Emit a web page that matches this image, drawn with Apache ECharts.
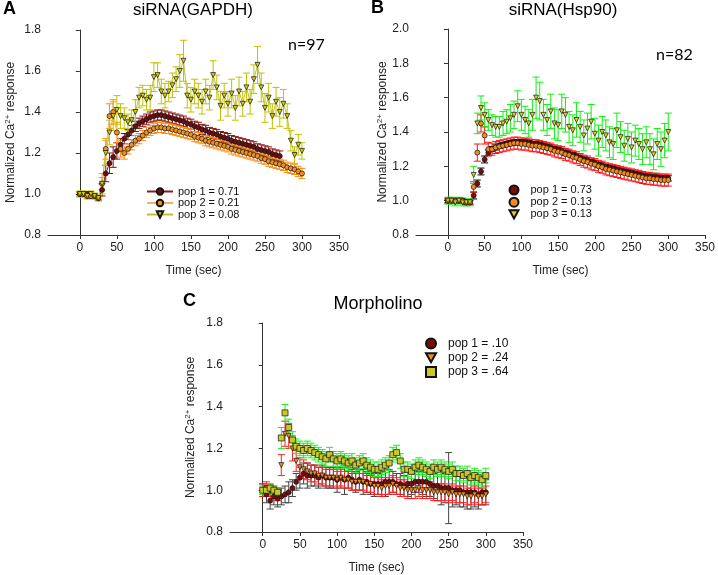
<!DOCTYPE html>
<html>
<head>
<meta charset="utf-8">
<script src="https://cdn.jsdelivr.net/npm/echarts@6/dist/echarts.min.js"></script>
<style>html,body{margin:0;background:#fff}#fig{width:718px;height:575px}</style>
</head>
<body>
<div id="fig"></div>
<script>
// sample times (sec)
const times = [
  0, 5, 10, 15, 20, 25, 30, 35, 40, 45,
  50, 55, 60, 65, 70, 75, 80, 85, 90, 95,
  100, 105, 110, 115, 120, 125, 130, 135, 140, 145,
  150, 155, 160, 165, 170, 175, 180, 185, 190, 195,
  200, 205, 210, 215, 220, 225, 230, 235, 240, 245,
  250, 255, 260, 265, 270, 275, 280, 285, 290, 295,
  300
];
const xTicks = [0, 50, 100, 150, 200, 250, 300, 350];

// A: siRNA(GAPDH)
const gapdhNames = ['pop 1 = 0.71', 'pop 2 = 0.21', 'pop 3 = 0.08'];
const gapdhPop1 = [
  1.00, 1.00, 1.00, 0.99, 0.99, 0.98, 1.02, 1.10, 1.15, 1.18,
  1.21, 1.24, 1.27, 1.29, 1.31, 1.33, 1.345, 1.355, 1.365, 1.375,
  1.38, 1.385, 1.385, 1.38, 1.375, 1.37, 1.365, 1.36, 1.355, 1.345,
  1.34, 1.33, 1.325, 1.315, 1.31, 1.30, 1.295, 1.29, 1.28, 1.275,
  1.27, 1.26, 1.255, 1.25, 1.245, 1.24, 1.235, 1.23, 1.22, 1.215,
  1.21, 1.205, 1.195, 1.19, 1.185
];
const gapdhErr1 = [
  0.01, 0.01, 0.01, 0.01, 0.01, 0.01, 0.03, 0.04, 0.05, 0.05,
  0.04, 0.03, 0.025, 0.025, 0.025, 0.025, 0.025, 0.025, 0.025, 0.025,
  0.025, 0.025, 0.025, 0.025, 0.025, 0.025, 0.025, 0.025, 0.025, 0.025,
  0.025, 0.025, 0.025, 0.025, 0.025, 0.025, 0.025, 0.025, 0.025, 0.025,
  0.025, 0.025, 0.025, 0.025, 0.025, 0.025, 0.025, 0.025, 0.025, 0.025,
  0.025, 0.025, 0.025, 0.025, 0.025
];
const gapdhPop2 = [
  1.00, 1.00, 0.99, 0.99, 0.99, 0.98, 1.05, 1.22, 1.38, 1.40,
  1.30, 1.22, 1.20, 1.22, 1.24, 1.26, 1.27, 1.285, 1.30, 1.31,
  1.32, 1.325, 1.325, 1.32, 1.32, 1.315, 1.31, 1.305, 1.30, 1.295,
  1.29, 1.28, 1.275, 1.27, 1.26, 1.255, 1.25, 1.245, 1.24, 1.235,
  1.23, 1.22, 1.215, 1.21, 1.205, 1.20, 1.195, 1.19, 1.185, 1.175,
  1.17, 1.16, 1.155, 1.15, 1.145, 1.14, 1.13, 1.125, 1.12, 1.11,
  1.10
];
const gapdhErr2 = [
  0.01, 0.01, 0.01, 0.01, 0.01, 0.01, 0.03, 0.05, 0.06, 0.06,
  0.05, 0.04, 0.03, 0.025, 0.025, 0.025, 0.025, 0.025, 0.025, 0.025,
  0.025, 0.025, 0.025, 0.025, 0.025, 0.025, 0.025, 0.025, 0.025, 0.025,
  0.025, 0.025, 0.025, 0.025, 0.025, 0.025, 0.025, 0.025, 0.025, 0.025,
  0.025, 0.025, 0.025, 0.025, 0.025, 0.025, 0.025, 0.025, 0.025, 0.025,
  0.025, 0.025, 0.025, 0.025, 0.025, 0.025, 0.025, 0.025, 0.025, 0.025,
  0.025
];
const gapdhPop3 = [
  1.00, 1.00, 0.99, 1.00, 0.99, 0.98, 1.05, 1.20, 1.30, 1.38,
  1.41, 1.38, 1.37, 1.35, 1.36, 1.40, 1.47, 1.48, 1.46, 1.47,
  1.57, 1.58, 1.50, 1.48, 1.50, 1.53, 1.56, 1.60, 1.65, 1.48,
  1.46, 1.50, 1.48, 1.45, 1.50, 1.47, 1.58, 1.52, 1.43, 1.48,
  1.44, 1.49, 1.42, 1.50, 1.44, 1.52, 1.45, 1.56, 1.63, 1.52,
  1.42, 1.47, 1.38, 1.45, 1.40, 1.44, 1.38, 1.26, 1.19, 1.24,
  1.21
];
const gapdhErr3 = [
  0.015, 0.015, 0.015, 0.015, 0.015, 0.015, 0.05, 0.06, 0.06, 0.07,
  0.07, 0.06, 0.05, 0.04, 0.05, 0.06, 0.05, 0.05, 0.05, 0.06,
  0.07, 0.06, 0.06, 0.06, 0.05, 0.06, 0.06, 0.08, 0.10, 0.06,
  0.06, 0.06, 0.06, 0.06, 0.06, 0.06, 0.07, 0.06, 0.07, 0.06,
  0.06, 0.07, 0.06, 0.07, 0.06, 0.07, 0.06, 0.07, 0.09, 0.07,
  0.07, 0.07, 0.06, 0.07, 0.07, 0.07, 0.06, 0.05, 0.04, 0.05,
  0.04
];

// B: siRNA(Hsp90)
const hspNames = ['pop 1 = 0.73', 'pop 2 = 0.13', 'pop 3 = 0.13'];
const hspPop1 = [
  1.00, 1.00, 1.00, 1.00, 1.00, 0.99, 0.99, 1.03, 1.10, 1.17,
  1.24, 1.28, 1.30, 1.31, 1.32, 1.325, 1.33, 1.335, 1.34, 1.34,
  1.34, 1.34, 1.335, 1.33, 1.33, 1.325, 1.32, 1.315, 1.31, 1.30,
  1.295, 1.29, 1.28, 1.275, 1.265, 1.26, 1.25, 1.24, 1.235, 1.225,
  1.22, 1.21, 1.205, 1.195, 1.19, 1.185, 1.18, 1.175, 1.17, 1.165,
  1.16, 1.155, 1.15, 1.145, 1.14, 1.14, 1.135, 1.135, 1.13, 1.13,
  1.13
];
const hspErr1 = [
  0.01, 0.01, 0.01, 0.01, 0.01, 0.01, 0.01, 0.02, 0.02, 0.02,
  0.02, 0.015, 0.015, 0.015, 0.015, 0.015, 0.015, 0.015, 0.015, 0.015,
  0.015, 0.015, 0.015, 0.015, 0.015, 0.015, 0.015, 0.015, 0.015, 0.015,
  0.015, 0.015, 0.015, 0.015, 0.015, 0.015, 0.015, 0.015, 0.015, 0.015,
  0.015, 0.015, 0.015, 0.015, 0.015, 0.015, 0.015, 0.015, 0.015, 0.015,
  0.015, 0.015, 0.015, 0.015, 0.015, 0.015, 0.015, 0.015, 0.015, 0.015,
  0.015
];
const hspPop2 = [
  1.00, 1.00, 1.00, 1.00, 1.00, 0.99, 0.99, 1.08, 1.28, 1.45,
  1.38, 1.30, 1.30, 1.31, 1.315, 1.32, 1.325, 1.33, 1.335, 1.335,
  1.33, 1.33, 1.325, 1.32, 1.32, 1.315, 1.31, 1.305, 1.30, 1.29,
  1.285, 1.28, 1.27, 1.265, 1.255, 1.25, 1.24, 1.23, 1.225, 1.215,
  1.21, 1.20, 1.195, 1.185, 1.18, 1.175, 1.17, 1.165, 1.16, 1.155,
  1.15, 1.145, 1.14, 1.135, 1.13, 1.13, 1.125, 1.125, 1.12, 1.12,
  1.12
];
const hspErr2 = [
  0.015, 0.015, 0.015, 0.015, 0.015, 0.015, 0.015, 0.03, 0.05, 0.05,
  0.05, 0.04, 0.035, 0.035, 0.035, 0.035, 0.035, 0.035, 0.035, 0.035,
  0.035, 0.035, 0.035, 0.035, 0.035, 0.035, 0.035, 0.035, 0.035, 0.035,
  0.035, 0.035, 0.035, 0.035, 0.035, 0.035, 0.035, 0.035, 0.035, 0.035,
  0.035, 0.035, 0.035, 0.035, 0.035, 0.035, 0.035, 0.035, 0.035, 0.035,
  0.035, 0.035, 0.035, 0.035, 0.035, 0.035, 0.035, 0.035, 0.035, 0.035,
  0.035
];
const hspPop3 = [
  1.00, 1.00, 0.99, 1.00, 0.99, 0.99, 0.99, 1.15, 1.45, 1.54,
  1.50, 1.47, 1.44, 1.43, 1.43, 1.45, 1.46, 1.48, 1.50, 1.55,
  1.50, 1.47, 1.45, 1.50, 1.60, 1.58, 1.50, 1.47, 1.52, 1.45,
  1.44, 1.52, 1.50, 1.43, 1.41, 1.47, 1.43, 1.38, 1.42, 1.46,
  1.39, 1.35, 1.40, 1.38, 1.34, 1.33, 1.41, 1.37, 1.32, 1.36,
  1.31, 1.35, 1.33, 1.30, 1.34, 1.30, 1.27, 1.33, 1.30, 1.35,
  1.40
];
const hspErr3 = [
  0.02, 0.02, 0.02, 0.02, 0.02, 0.02, 0.02, 0.05, 0.06, 0.07,
  0.07, 0.06, 0.06, 0.06, 0.06, 0.07, 0.07, 0.08, 0.08, 0.09,
  0.09, 0.08, 0.08, 0.09, 0.12, 0.11, 0.09, 0.09, 0.10, 0.09,
  0.09, 0.10, 0.10, 0.09, 0.09, 0.10, 0.09, 0.09, 0.09, 0.10,
  0.09, 0.09, 0.09, 0.09, 0.09, 0.09, 0.10, 0.09, 0.09, 0.09,
  0.09, 0.09, 0.09, 0.09, 0.09, 0.09, 0.09, 0.09, 0.10, 0.10,
  0.11
];

// C: Morpholino
const morphNames = ['pop 1 = .10', 'pop 2 = .24', 'pop 3 = .64'];
const morphPop1 = [
  1.00, 0.98, 0.95, 0.97, 0.96, 0.97, 0.98, 0.99, 1.01, 1.04,
  1.06, 1.08, 1.07, 1.07, 1.07, 1.06, 1.07, 1.06, 1.06, 1.06,
  1.05, 1.06, 1.05, 1.06, 1.05, 1.04, 1.05, 1.04, 1.04, 1.03,
  1.03, 1.03, 1.03, 1.04, 1.04, 1.04, 1.03, 1.03, 1.02, 1.03,
  1.03, 1.04, 1.04, 1.04, 1.04, 1.03, 1.02, 1.02, 1.01, 1.01,
  1.01, 1.00, 1.00, 1.00, 0.99, 0.99, 0.99, 0.99, 0.98, 0.99,
  0.99
];
const morphErr1 = [
  0.03, 0.04, 0.04, 0.04, 0.04, 0.04, 0.04, 0.05, 0.04, 0.04,
  0.05, 0.05, 0.06, 0.05, 0.05, 0.05, 0.05, 0.05, 0.05, 0.05,
  0.06, 0.05, 0.07, 0.05, 0.05, 0.05, 0.05, 0.06, 0.05, 0.05,
  0.06, 0.05, 0.06, 0.07, 0.06, 0.05, 0.05, 0.05, 0.05, 0.06,
  0.05, 0.05, 0.05, 0.06, 0.07, 0.06, 0.06, 0.07, 0.08, 0.07,
  0.17, 0.08, 0.07, 0.08, 0.07, 0.08, 0.08, 0.07, 0.07, 0.06,
  0.06
];
const morphPop2 = [
  1.00, 1.01, 1.00, 0.99, 0.98, 1.12, 1.27, 1.26, 1.20, 1.14,
  1.11, 1.10, 1.09, 1.08, 1.08, 1.07, 1.07, 1.06, 1.06, 1.06,
  1.05, 1.06, 1.05, 1.05, 1.04, 1.04, 1.04, 1.04, 1.03, 1.03,
  1.02, 1.02, 1.01, 1.02, 1.02, 1.03, 1.02, 1.01, 1.01, 1.00,
  1.00, 1.00, 1.01, 1.00, 1.00, 1.00, 0.99, 0.99, 0.99, 0.99,
  0.98, 0.99, 0.98, 0.98, 0.98, 0.97, 0.97, 0.98, 0.97, 0.97,
  0.98
];
const morphErr2 = [
  0.03, 0.03, 0.03, 0.03, 0.03, 0.05, 0.06, 0.06, 0.06, 0.05,
  0.045, 0.045, 0.04, 0.04, 0.04, 0.04, 0.04, 0.04, 0.04, 0.04,
  0.04, 0.04, 0.04, 0.04, 0.04, 0.04, 0.04, 0.04, 0.04, 0.04,
  0.04, 0.04, 0.04, 0.04, 0.04, 0.04, 0.04, 0.04, 0.04, 0.04,
  0.04, 0.04, 0.04, 0.04, 0.04, 0.04, 0.04, 0.04, 0.04, 0.04,
  0.04, 0.04, 0.04, 0.04, 0.04, 0.04, 0.04, 0.04, 0.04, 0.04,
  0.04
];
const morphPop3 = [
  1.00, 1.00, 1.01, 1.00, 0.99, 1.25, 1.37, 1.30, 1.24, 1.21,
  1.20, 1.19, 1.20, 1.19, 1.18, 1.17, 1.16, 1.15, 1.17, 1.15,
  1.14, 1.15, 1.14, 1.13, 1.14, 1.12, 1.13, 1.14, 1.12, 1.11,
  1.10, 1.10, 1.11, 1.12, 1.13, 1.17, 1.18, 1.14, 1.10, 1.10,
  1.09, 1.11, 1.12, 1.11, 1.10, 1.09, 1.11, 1.10, 1.11, 1.10,
  1.09, 1.10, 1.08, 1.08, 1.07, 1.08, 1.06, 1.07, 1.06, 1.05,
  1.07
];
const morphErr3 = [
  0.02, 0.02, 0.02, 0.02, 0.02, 0.05, 0.04, 0.04, 0.04, 0.035,
  0.035, 0.035, 0.035, 0.035, 0.035, 0.035, 0.035, 0.035, 0.035, 0.035,
  0.035, 0.035, 0.035, 0.035, 0.035, 0.035, 0.035, 0.035, 0.035, 0.035,
  0.035, 0.035, 0.035, 0.035, 0.035, 0.035, 0.035, 0.035, 0.035, 0.035,
  0.035, 0.035, 0.035, 0.035, 0.035, 0.035, 0.035, 0.035, 0.035, 0.035,
  0.035, 0.035, 0.035, 0.035, 0.035, 0.035, 0.035, 0.035, 0.035, 0.035,
  0.035
];

const FONT = '"Liberation Sans", Arial, sans-serif';
const DOWN_ICON = 'path://M0,0L10,0L5,9Z';

function errSeries(gi, vals, errs, color) {
  return {
    type: 'custom', xAxisIndex: gi, yAxisIndex: gi, silent: true,
    data: vals.map((v, i) => [times[i], v, errs[i]]),
    encode: { x: 0, y: 1 },
    renderItem: (params, api) => {
      const t = api.value(0), v = api.value(1), e = api.value(2);
      const hi = api.coord([t, v + e]), lo = api.coord([t, v - e]);
      const st = { stroke: color, lineWidth: 1 };
      return {
        type: 'group', children: [
          { type: 'line', shape: { x1: hi[0], y1: hi[1], x2: lo[0], y2: lo[1] }, style: st },
          { type: 'line', shape: { x1: hi[0] - 3.5, y1: hi[1], x2: hi[0] + 3.5, y2: hi[1] }, style: st },
          { type: 'line', shape: { x1: lo[0] - 3.5, y1: lo[1], x2: lo[0] + 3.5, y2: lo[1] }, style: st }
        ]
      };
    }
  };
}

function markSeries(name, gi, vals, kind, symbol, size, fill, line) {
  return {
    name, type: kind, xAxisIndex: gi, yAxisIndex: gi, silent: true,
    data: vals.map((v, i) => [times[i], v]),
    symbol: symbol === 'down' ? 'triangle' : symbol,
    symbolRotate: symbol === 'down' ? 180 : 0,
    symbolSize: size, showAllSymbol: true,
    itemStyle: { color: fill, borderColor: '#111', borderWidth: 0.7, opacity: 1 },
    lineStyle: { color: line, width: 1 }
  };
}

function xAxisOf(gi, min) {
  return {
    type: 'value', gridIndex: gi, min: min, max: 350,
    name: 'Time (sec)', nameLocation: 'middle', nameGap: 30,
    nameTextStyle: { fontSize: 12, color: '#222', fontFamily: FONT },
    axisLine: { lineStyle: { color: '#333' } },
    axisTick: { customValues: xTicks, length: 4, lineStyle: { color: '#333' } },
    axisLabel: { customValues: xTicks, fontSize: 12, color: '#222', margin: 7, fontFamily: FONT },
    splitLine: { show: false }
  };
}

function yAxisOf(gi, max, gap) {
  return {
    type: 'value', gridIndex: gi, min: 0.8, max: max, interval: 0.2,
    name: '{n|Normalized Ca}{s|2+}{n| response}', nameLocation: 'middle', nameGap: gap,
    nameTextStyle: {
      color: '#222', fontFamily: FONT,
      rich: {
        n: { fontSize: 12, lineHeight: 14, fontFamily: FONT, color: '#222' },
        s: { fontSize: 8, lineHeight: 14, verticalAlign: 'top', fontFamily: FONT, color: '#222' }
      }
    },
    axisLine: { show: true, lineStyle: { color: '#333' } },
    axisTick: { show: true, length: 4, lineStyle: { color: '#333' } },
    axisLabel: { fontSize: 12, color: '#222', margin: 7, fontFamily: FONT, formatter: v => v.toFixed(1) },
    splitLine: { show: false }
  };
}

function legendOf(items, left, top, iw, ih, gap, fs, lh, padLeft) {
  return {
    data: items, orient: 'vertical', left, top, padding: 0,
    itemWidth: iw, itemHeight: ih, itemGap: gap, selectedMode: false,
    textStyle: { fontSize: fs, lineHeight: lh, color: '#111', fontFamily: FONT, padding: [0, 0, 0, padLeft] }
  };
}

function label(text, x, y, font, align) {
  return {
    type: 'text', x, y, silent: true,
    style: { text, font, fill: '#000', align: align, verticalAlign: 'middle', textAlign: align, textVerticalAlign: 'middle' }
  };
}

const chart = echarts.init(document.getElementById('fig'));
chart.setOption({
  animation: false,
  textStyle: { fontFamily: FONT },
  grid: [
    { left: 48, top: 30, width: 291, height: 205 },
    { left: 416, top: 29, width: 292, height: 206 },
    { left: 230, top: 323, width: 293, height: 209 }
  ],
  xAxis: [xAxisOf(0, -43), xAxisOf(1, -43.5), xAxisOf(2, -44)],
  yAxis: [yAxisOf(0, 1.8, 30), yAxisOf(1, 2.0, 26), yAxisOf(2, 1.8, 32)],
  legend: [
    legendOf(gapdhNames, 146, 186, 26, 8, 0.5, 11, 10, 0),
    legendOf([hspNames[0], hspNames[1], { name: hspNames[2], icon: DOWN_ICON }],
      508.5, 184.5, 9, 9, 1.2, 11, 10, 7),
    legendOf([morphNames[0], { name: morphNames[1], icon: DOWN_ICON }, morphNames[2]],
      425, 337.5, 10, 10, 2.3, 12, 12, 7)
  ],
  graphic: [
    label('A', 3, 9, 'bold 18px ' + FONT, 'left'),
    label('siRNA(GAPDH)', 193, 10, '17px ' + FONT, 'center'),
    label('n=97', 288, 45, '16px Lato, "Open Sans", sans-serif', 'left'),
    label('B', 371, 8, 'bold 18px ' + FONT, 'left'),
    label('siRNA(Hsp90)', 563, 10, '17px ' + FONT, 'center'),
    label('n=82', 656, 55, '16px Lato, "Open Sans", sans-serif', 'left'),
    label('C', 183, 301, 'bold 18px ' + FONT, 'left'),
    label('Morpholino', 378, 304, '18px ' + FONT, 'center')
  ],
  series: [
    errSeries(0, gapdhPop1, gapdhErr1, '#8b1010'),
    markSeries(gapdhNames[0], 0, gapdhPop1, 'line', 'circle', 5, '#6b0f0f', '#8b1c1c'),
    errSeries(0, gapdhPop2, gapdhErr2, '#ff8c10'),
    markSeries(gapdhNames[1], 0, gapdhPop2, 'line', 'circle', 5, '#f0901e', '#f7b06a'),
    errSeries(0, gapdhPop3, gapdhErr3, '#c2c200'),
    markSeries(gapdhNames[2], 0, gapdhPop3, 'line', 'down', 5, '#d0d000', '#c0c030'),

    errSeries(1, hspPop1, hspErr1, '#000000'),
    markSeries(hspNames[0], 1, hspPop1, 'scatter', 'circle', 5, '#7a0c0c', '#7a0c0c'),
    errSeries(1, hspPop2, hspErr2, '#ff1010'),
    markSeries(hspNames[1], 1, hspPop2, 'scatter', 'circle', 5, '#f08c1e', '#f08c1e'),
    errSeries(1, hspPop3, hspErr3, '#10f010'),
    markSeries(hspNames[2], 1, hspPop3, 'scatter', 'down', 5, '#dccc20', '#dccc20'),

    errSeries(2, morphPop1, morphErr1, '#444444'),
    markSeries(morphNames[0], 2, morphPop1, 'scatter', 'circle', 5, '#7a0c0c', '#7a0c0c'),
    errSeries(2, morphPop2, morphErr2, '#ff2020'),
    markSeries(morphNames[1], 2, morphPop2, 'scatter', 'down', 5, '#f08c1e', '#f08c1e'),
    errSeries(2, morphPop3, morphErr3, '#20ee20'),
    markSeries(morphNames[2], 2, morphPop3, 'scatter', 'rect', 6, '#c8c828', '#c8c828')
  ]
});
window.addEventListener('resize', () => chart.resize());
</script>
</body>
</html>
